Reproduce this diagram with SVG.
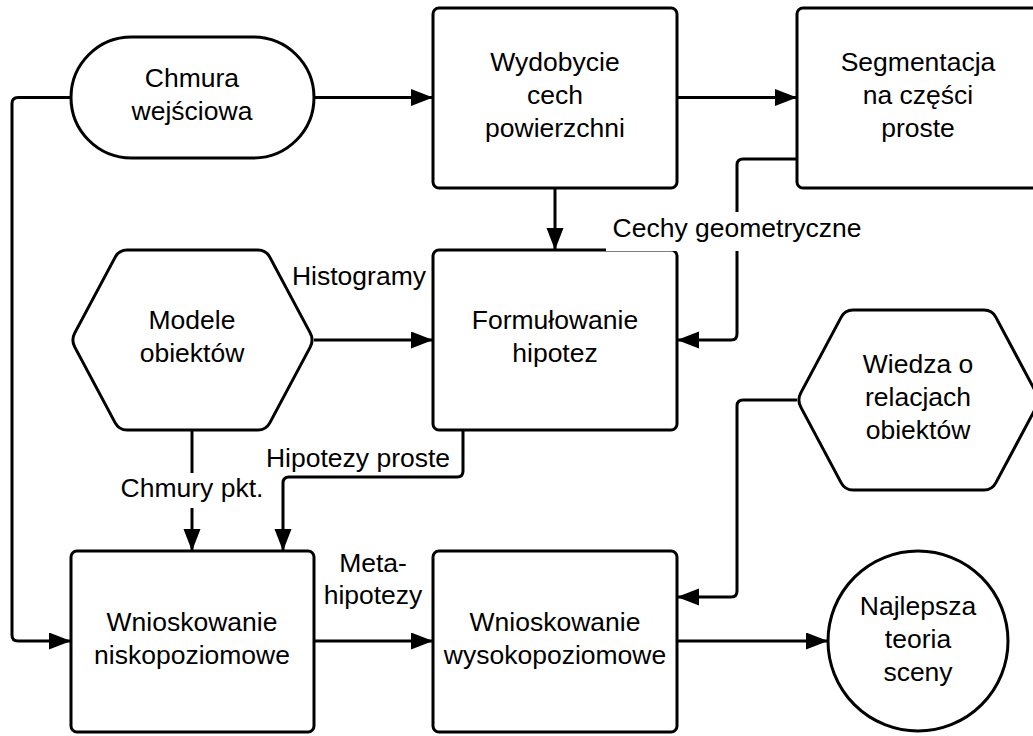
<svg xmlns="http://www.w3.org/2000/svg" width="1033" height="736" viewBox="0 0 1033 736">
  <style>
    .shape { fill: #ffffff; stroke: #000000; stroke-width: 3; stroke-linejoin: round; }
    .wire { fill: none; stroke: #000000; stroke-width: 3; }
    .arrow { marker-end: url(#head); }
    text { font-family: "Liberation Sans", Arial, sans-serif; font-size: 26.5px; fill: #000000; text-anchor: middle; }
    .label-bg { fill: #ffffff; stroke: none; }
  </style>
  <defs>
    <marker id="head" markerUnits="userSpaceOnUse" markerWidth="23" markerHeight="18" refX="22" refY="8.5" orient="auto">
      <path d="M0,0 L22,8.5 L0,17 Z" fill="#000000"/>
    </marker>
  </defs>

  <rect width="1033" height="736" fill="#ffffff"/>

  <!-- nodes -->
  <g id="chmura-wejsciowa">
    <rect class="shape" x="71" y="37" width="243" height="121" rx="60.5"/>
    <text x="192" y="87">Chmura</text>
    <text x="192" y="120">wejściowa</text>
  </g>

  <g id="wydobycie-cech">
    <rect class="shape" x="433" y="8" width="244" height="180" rx="6"/>
    <text x="555" y="71">Wydobycie</text>
    <text x="555" y="104">cech</text>
    <text x="555" y="137">powierzchni</text>
  </g>

  <g id="segmentacja">
    <rect class="shape" x="797" y="8" width="250" height="180" rx="6"/>
    <text x="918" y="71">Segmentacja</text>
    <text x="918" y="104">na części</text>
    <text x="918" y="137">proste</text>
  </g>

  <g id="modele-obiektow">
    <path class="shape" d="M74.8,332.9 L115.2,257.1 Q119,250 127,250 L258,250 Q266,250 269.8,257.1 L310.2,332.9 Q314,340 310.2,347.1 L269.8,422.9 Q266,430 258,430 L127,430 Q119,430 115.2,422.9 L74.8,347.1 Q71,340 74.8,332.9 Z"/>
    <text x="192" y="329">Modele</text>
    <text x="192" y="362">obiektów</text>
  </g>

  <g id="formulowanie-hipotez">
    <rect class="shape" x="433" y="250" width="244" height="180" rx="6"/>
    <text x="555" y="329">Formułowanie</text>
    <text x="555" y="362">hipotez</text>
  </g>

  <g id="wiedza-o-relacjach">
    <path class="shape" d="M800.8,392.9 L841.2,317.1 Q845,310 853,310 L984,310 Q992,310 995.8,317.1 L1036.2,392.9 Q1040,400 1036.2,407.1 L995.8,482.9 Q992,490 984,490 L853,490 Q845,490 841.2,482.9 L800.8,407.1 Q797,400 800.8,392.9 Z"/>
    <text x="918" y="373">Wiedza o</text>
    <text x="918" y="406">relacjach</text>
    <text x="918" y="439">obiektów</text>
  </g>

  <g id="wnioskowanie-niskopoziomowe">
    <rect class="shape" x="71" y="551" width="243" height="181" rx="6"/>
    <text x="192" y="631">Wnioskowanie</text>
    <text x="192" y="664">niskopoziomowe</text>
  </g>

  <g id="wnioskowanie-wysokopoziomowe">
    <rect class="shape" x="433" y="551" width="244" height="181" rx="6"/>
    <text x="555" y="631">Wnioskowanie</text>
    <text x="555" y="664">wysokopoziomowe</text>
  </g>

  <g id="najlepsza-teoria">
    <circle class="shape" cx="918" cy="641" r="90"/>
    <text x="918" y="615">Najlepsza</text>
    <text x="918" y="648">teoria</text>
    <text x="918" y="681">sceny</text>
  </g>

  <!-- connectors -->
  <g id="connectors">
    <path class="wire arrow" d="M314,97.5 H433"/>
    <path class="wire arrow" d="M677,97.5 H797"/>
    <path class="wire arrow" d="M555,188 V250"/>
    <path class="wire arrow" d="M797,159 H743 Q737,159 737,165 V334 Q737,340 731,340 H677"/>
    <path class="wire arrow" d="M314,340 H433"/>
    <path class="wire arrow" d="M192,430 V551"/>
    <path class="wire arrow" d="M463,430 V471 Q463,477 457,477 H289 Q283,477 283,483 V551"/>
    <path class="wire arrow" d="M71,97.5 H18 Q12,97.5 12,103.5 V635 Q12,641 18,641 H71"/>
    <path class="wire arrow" d="M314,641 H433"/>
    <path class="wire arrow" d="M797,400 H743 Q737,400 737,406 V591 Q737,597 731,597 H677"/>
    <path class="wire arrow" d="M677,641 H828"/>

    <!-- connector labels -->
    <g id="label-cechy">
      <rect class="label-bg" x="606" y="212" width="262" height="39"/>
      <text x="737" y="237">Cechy geometryczne</text>
    </g>
    <g id="label-histogramy">
      <text x="359" y="285">Histogramy</text>
    </g>
    <g id="label-chmury-pkt">
      <rect class="label-bg" x="116" y="473" width="152" height="35"/>
      <text x="192" y="497">Chmury pkt.</text>
    </g>
    <g id="label-hipotezy-proste">
      <text x="358" y="467">Hipotezy proste</text>
    </g>
    <g id="label-meta">
      <text x="373" y="572">Meta-</text>
      <text x="373" y="604">hipotezy</text>
    </g>
  </g>
</svg>
